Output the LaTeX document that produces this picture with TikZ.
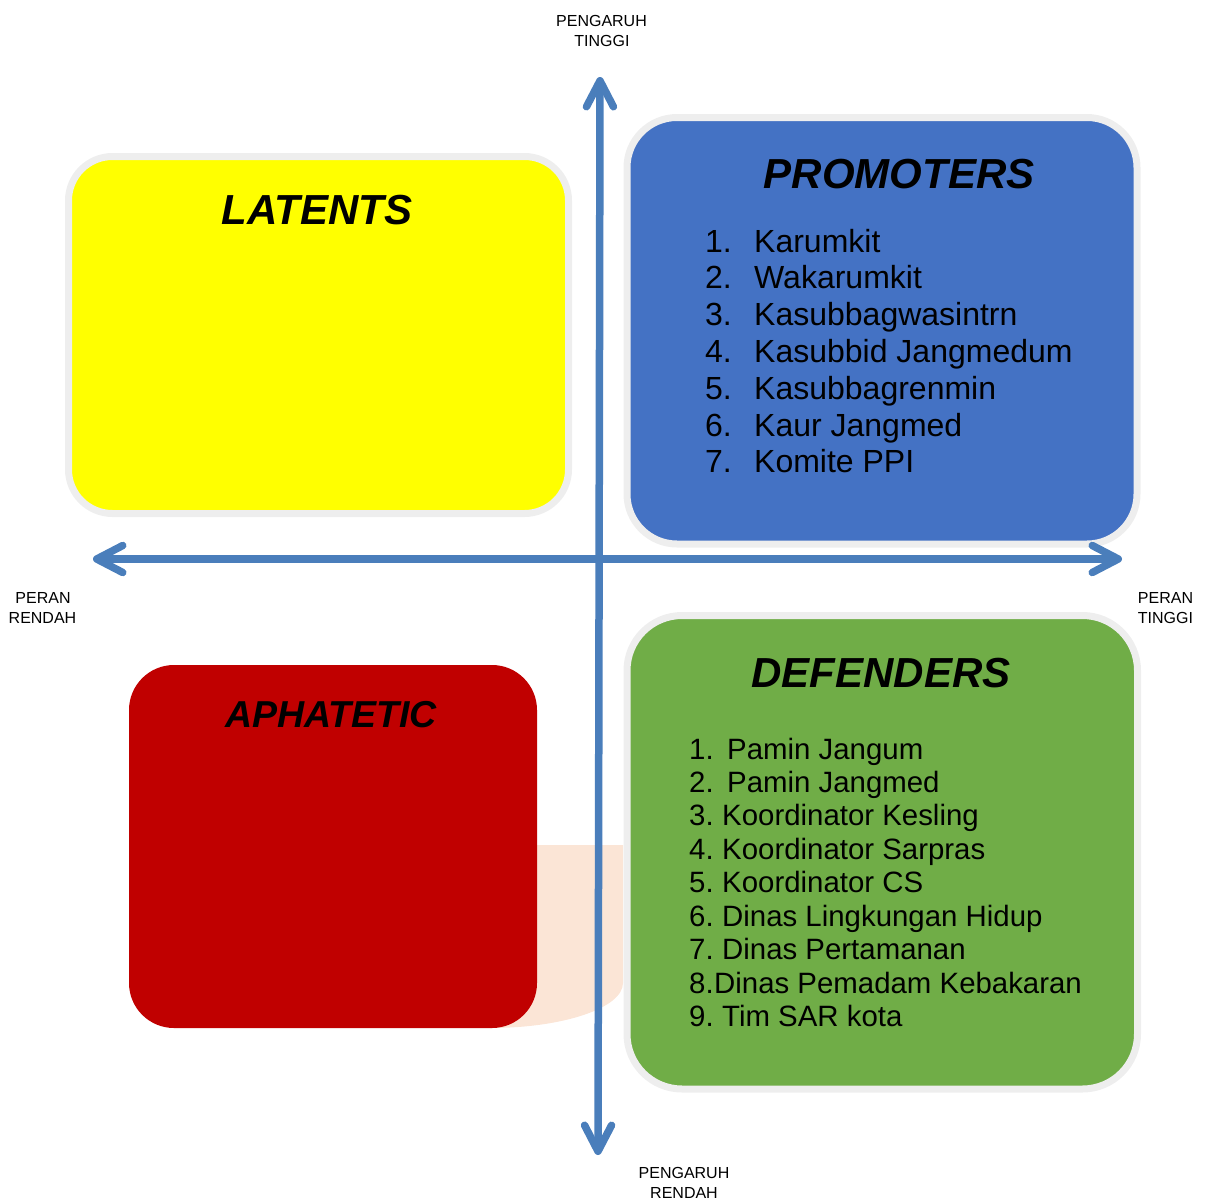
\documentclass[tikz,border=0pt]{standalone}
\usepackage{fontspec}
\setmainfont{Liberation Sans}
\usetikzlibrary{arrows.meta}
\definecolor{axisblue}{HTML}{4A7EBB}
\definecolor{boxblue}{HTML}{4472C4}
\definecolor{boxgreen}{HTML}{70AD47}
\definecolor{boxyellow}{HTML}{FFFF00}
\definecolor{boxred}{HTML}{C00000}
\definecolor{peach}{HTML}{FBE5D6}
\definecolor{rimgray}{HTML}{EEEEEE}
\begin{document}
\begin{tikzpicture}[x=1pt,y=-1pt,
  boxrim/.style={draw=rimgray, line width=7pt},
  title/.style={font=\fontsize{42}{50}\selectfont\bfseries\itshape, anchor=base, inner sep=0pt},
  pitem/.style={font=\fontsize{32}{37}\selectfont, anchor=base west, inner sep=0pt},
  gitem/.style={font=\fontsize{29.4}{34}\selectfont, anchor=base west, inner sep=0pt},
  axlabel/.style={font=\fontsize{16}{20}\selectfont, anchor=base, inner sep=0pt},
  axtip/.tip={Straight Barb[length=26pt,width=27pt,round]},
  axis/.style={draw=axisblue, line width=7.5pt, axtip-axtip}]
\useasboundingbox (0,0) rectangle (1208,1200);

% peach background shape behind the red box
\fill[peach] (490,845) -- (623,845) -- (623,983)
  .. controls (623,1008) and (563,1028) .. (490,1028) -- cycle;

% boxes
\draw[boxrim, fill=boxyellow, rounded corners=44pt] (68.5,156.5) rectangle (568.5,513.5);
\draw[boxrim, fill=boxblue, rounded corners=50pt] (627,117.5) rectangle (1137,544);
\draw[boxrim, fill=boxgreen, rounded corners=55pt] (627,615.5) rectangle (1137.5,1089);
\fill[boxred, rounded corners=45pt] (129,665) rectangle (537,1028);

% titles
\node[title] (tlat) at (317,224) {LATENTS};
\node[title] (tpro) at (899,188) {PROMOTERS};
\node[title] (tdef) at (881,687) {DEFENDERS};
\node[title, font=\fontsize{37.5}{45}\selectfont\bfseries\itshape] (taph) at (331,727) {APHATETIC};

% promoters list
\foreach \n/\t [count=\i from 0] in {1./Karumkit,2./Wakarumkit,3./Kasubbagwasintrn,4./Kasubbid Jangmedum,5./Kasubbagrenmin,6./Kaur Jangmed,7./Komite PPI}{
  \node[pitem] (pn\i) at (705,252+36.8*\i) {\n};
  \node[pitem] (pt\i) at (754,252+36.8*\i) {\t};
}

% defenders list
\foreach \n/\x/\t [count=\i from 0] in {1./727/Pamin Jangum,2./727/Pamin Jangmed,3./722/Koordinator Kesling,4./722/Koordinator Sarpras,5./722/Koordinator CS,6./722/Dinas Lingkungan Hidup,7./722/Dinas Pertamanan,8./714/Dinas Pemadam Kebakaran,9./722/Tim SAR kota}{
  \node[gitem] (dn\i) at (689,759+33.46*\i) {\n};
  \node[gitem] (dt\i) at (\x,759+33.46*\i) {\t};
}

% axis labels
\node[axlabel] (pt1) at (601.5,26.7) {PENGARUH};
\node[axlabel] (pt2) at (602,46.7) {TINGGI};
\node[axlabel] (pr1) at (684,1178) {PENGARUH};
\node[axlabel] (pr2) at (684,1198) {RENDAH};
\node[axlabel] (lr1) at (43,603) {PERAN};
\node[axlabel] (lr2) at (42.5,623) {RENDAH};
\node[axlabel] (rt1) at (1165.5,603) {PERAN};
\node[axlabel] (rt2) at (1165.5,623) {TINGGI};

% axes
\coordinate (atop) at (600,77);
\coordinate (abot) at (598,1155);
\coordinate (aleft) at (93,559);
\coordinate (aright) at (1122,559);
\draw[axis] (abot) -- (atop);
\draw[axis] (aleft) -- (aright);
\end{tikzpicture}
\end{document}
